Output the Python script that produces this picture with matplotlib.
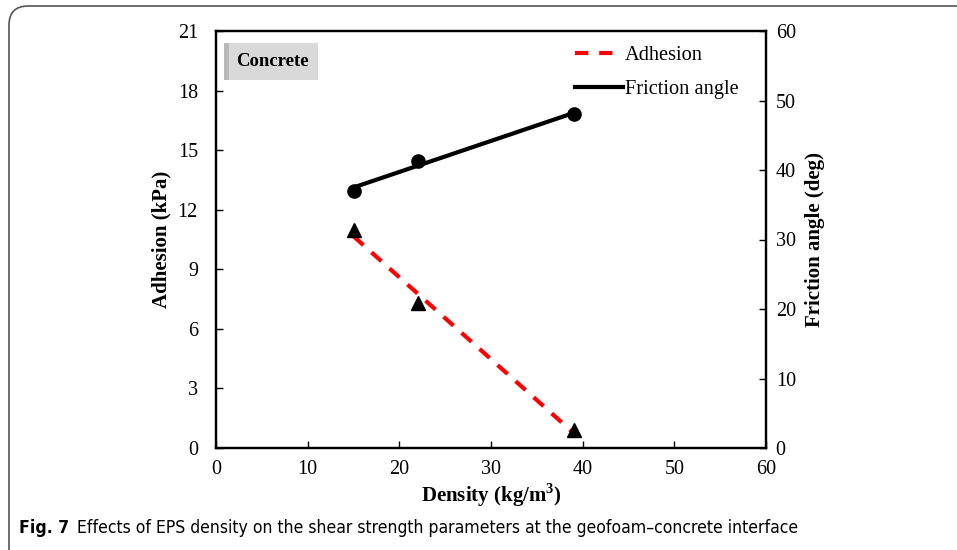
import numpy as np
import matplotlib
matplotlib.use("Agg")
import matplotlib.pyplot as plt
from matplotlib.patches import FancyBboxPatch, Rectangle
from matplotlib.lines import Line2D
from matplotlib import font_manager
from matplotlib.font_manager import FontProperties

# Data
density = [15, 22, 39]
adhesion = [11.0, 7.3, 0.9]          # kPa
friction_angle = [37.0, 41.3, 48.0]  # deg

x_ticks = [0, 10, 20, 30, 40, 50, 60]
adh_ticks = [0, 3, 6, 9, 12, 15, 18, 21]
fric_ticks = [0, 10, 20, 30, 40, 50, 60]

caption_bold = "Fig. 7"
caption_text = ("Effects of EPS density on the shear strength parameters "
                "at the geofoam\u2013concrete interface")

serif = ["Liberation Serif", "DejaVu Serif"]


def caption_font(weight):
    """Pick a condensed sans face for the caption, falling back to Open Sans."""
    best = None
    for f in font_manager.fontManager.ttflist:
        st = str(f.stretch).lower()
        if f.style != "normal":
            continue
        if "condensed" in st or "condensed" in f.name.lower() or "narrow" in f.name.lower():
            w = f.weight if isinstance(f.weight, int) else (700 if "bold" in str(f.weight) else 400)
            if (weight == "bold") == (w >= 600):
                best = f
                break
    if best is not None:
        return FontProperties(fname=best.fname)
    return FontProperties(family="Open Sans", weight=weight)


W, H = 957, 550
fig = plt.figure(figsize=(W / 100, H / 100), dpi=100)
ax = fig.add_axes([216 / W, 1 - 448 / H, 550 / W, 417 / H])
ax2 = ax.twinx()

# Linear trend lines through each series
xs = np.array([min(density), max(density)])
pa = np.polyfit(density, adhesion, 1)
pf = np.polyfit(density, friction_angle, 1)

dash = (0, (3.2, 2.6))
ax.plot(xs, np.polyval(pa, xs), color="#ff0000", lw=3, ls=dash, zorder=2)
ax.plot(density, adhesion, ls="none", marker="^", ms=10, color="black", zorder=3)
ax2.plot(xs, np.polyval(pf, xs), color="black", lw=3, zorder=2)
ax2.plot(density, friction_angle, ls="none", marker="o", ms=9.5, color="black", zorder=3)

ax.set_xlim(0, 60)
ax.set_ylim(0, 21)
ax2.set_ylim(0, 60)
ax.set_xticks(x_ticks)
ax.set_yticks(adh_ticks)
ax2.set_yticks(fric_ticks)

for a in (ax, ax2):
    for s in a.spines.values():
        s.set_linewidth(1.6)
    a.tick_params(direction="in", length=5, width=1, labelsize=14.5)
    for lab in a.get_xticklabels() + a.get_yticklabels():
        lab.set_family(serif)
ax.tick_params(axis="x", pad=9)
ax.tick_params(axis="y", pad=13)
ax2.tick_params(axis="y", pad=7)

lab_kw = dict(fontsize=15, fontweight="bold", family=serif)
ax.set_xlabel("Density (kg/m$^\\mathregular{3}$)", **lab_kw)
ax.set_ylabel("Adhesion (kPa)", **lab_kw)
ax2.set_ylabel("Friction angle (deg)", rotation=90, **lab_kw)
ax.xaxis.set_label_coords(0.5, (448 - 481) / 417)
ax.yaxis.set_label_coords((171 - 216) / 550, 0.5)
ax2.yaxis.set_label_coords((805 - 216) / 550, 0.5)

handles = [Line2D([], [], color="#ff0000", lw=3, ls=dash),
           Line2D([], [], color="black", lw=3)]
ax2.legend(handles, ["Adhesion", "Friction angle"], loc="upper right",
           bbox_to_anchor=(0.983, 1.008), frameon=False,
           prop={"family": serif, "size": 14.7}, handlelength=2.35,
           handletextpad=0.1, labelspacing=0.72)

# "Concrete" label box with a soft left shadow
fig.add_artist(Rectangle((224 / W, 1 - 80 / H), 6 / W, 37 / H,
                         transform=fig.transFigure, facecolor="#9a9a9a",
                         edgecolor="none", alpha=0.7))
fig.add_artist(Rectangle((229 / W, 1 - 80 / H), 89 / W, 37 / H,
                         transform=fig.transFigure, facecolor="#d9d9d9",
                         edgecolor="none"))
fig.text(272 / W, 1 - 61 / H, "Concrete", ha="center", va="center",
         fontsize=13.5, fontweight="bold", family=serif)

# Outer rounded frame
frame = FancyBboxPatch((9 / W, -20 / H), 1000 / W, (H - 6 + 20) / H,
                       boxstyle="round,pad=0,rounding_size=0.02",
                       transform=fig.transFigure, facecolor="none",
                       edgecolor="#555555", lw=1.2, mutation_aspect=W / H)
fig.add_artist(frame)

# Caption: bold figure number followed by the description
fig.canvas.draw()
r = fig.canvas.get_renderer()
size = 13.5
fp_b = caption_font("bold")
fp_r = caption_font("normal")
fp_b.set_size(size)
fp_r.set_size(size)
t1 = fig.text(19 / W, 1 - 533 / H, caption_bold, fontproperties=fp_b,
              va="baseline", ha="left")
bb = t1.get_window_extent(renderer=r)
t2 = fig.text((bb.x1 + 9) / W, 1 - 533 / H, caption_text, fontproperties=fp_r,
              va="baseline", ha="left")
# keep the caption within its line width
end = t2.get_window_extent(renderer=r).x1
if end > 800:
    scale = (800 - 19) / (end - 19)
    size *= scale
    t1.set_fontsize(size)
    bb = t1.get_window_extent(renderer=r)
    t2.set_fontsize(size)
    t2.set_x((bb.x1 + 8 * scale) / W)

fig.savefig("out.png", dpi=100)
